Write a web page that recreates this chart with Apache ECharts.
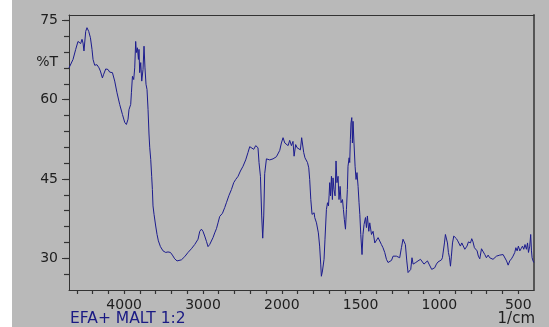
<!DOCTYPE html>
<html>
<head>
<meta charset="utf-8">
<script src="https://cdn.jsdelivr.net/npm/echarts@6/dist/echarts.min.js"></script>
<style>
  html, body { margin: 0; padding: 0; background: #ffffff; }
  #chart { position: absolute; left: 12px; top: 0; width: 537px; height: 327px; background: #b9b9b9; }
</style>
</head>
<body>
<div id="chart"></div>
<script>
// FTIR spectrum: wavenumber (1/cm) and transmittance (%T)
const wavenumbers = [
  4700,4691,4649,4615,4586,4564,4552,4535,4522,4510,
  4488,4472,4450,4428,4408,4395,4374,4345,4319,4302,
  4276,4260,4234,4205,4184,4149,4120,4091,4057,4022,
  3993,3972,3951,3939,3917,3908,3895,3879,3866,3854,
  3845,3832,3819,3812,3803,3790,3777,3761,3748,3736,
  3723,3710,3697,3685,3676,3663,3651,3642,3634,3621,
  3600,3583,3566,3540,3507,3473,3444,3413,3388,3359,
  3329,3304,3274,3232,3190,3147,3105,3083,3063,3041,
  3020,3000,2978,2956,2936,2915,2894,2873,2851,2829,
  2809,2788,2753,2724,2703,2670,2639,2610,2585,2555,
  2525,2492,2458,2429,2407,2385,2356,2331,2302,2289,
  2271,2255,2242,2229,2217,2195,2175,2153,2111,2068,
  2048,2026,2005,1992,1981,1971,1960,1950,1939,1929,
  1922,1912,1903,1891,1882,1874,1865,1861,1853,1844,
  1837,1829,1823,1816,1808,1802,1795,1791,1780,1774,
  1768,1760,1753,1749,1742,1738,1732,1726,1717,1710,
  1704,1700,1696,1691,1685,1679,1675,1669,1662,1656,
  1650,1643,1637,1630,1624,1615,1609,1603,1596,1590,
  1584,1580,1573,1569,1565,1561,1556,1552,1548,1542,
  1535,1529,1523,1516,1510,1505,1499,1491,1485,1478,
  1469,1463,1457,1448,1442,1431,1421,1410,1400,1389,
  1379,1368,1358,1347,1336,1326,1315,1304,1294,1283,
  1273,1263,1252,1241,1231,1224,1216,1207,1199,1188,
  1182,1174,1167,1157,1150,1136,1120,1108,1098,1087,
  1076,1066,1057,1049,1040,1030,1019,1009,998,987,
  981,974,968,962,955,949,943,936,930,924,
  917,909,901,892,884,876,867,858,850,839,
  833,825,816,803,795,787,778,770,761,753,
  744,733,723,712,702,691,681,670,660,649,
  638,628,617,606,596,585,574,564,554,543,
  533,522,515,507,499,490,482,473,465,457,
  448,441,435,427,421,416,412,406,401
];

const transmittance = [
  66.0,65.7,67.6,69.5,71.0,71.1,70.6,71.4,70.7,69.2,
  72.9,73.6,72.9,71.7,69.5,67.6,66.5,66.6,66.0,65.4,
  64.1,64.8,65.8,65.7,65.2,65.1,63.5,61.3,59.1,57.2,
  55.7,55.3,56.3,58.1,59.1,61.3,64.4,63.8,66.0,71.0,
  68.9,69.8,67.6,69.5,65.1,67.0,63.5,65.7,70.1,66.0,
  62.9,61.9,58.1,53.5,51.0,48.7,45.5,43.0,39.9,38.3,
  36.1,34.5,33.3,32.2,31.4,31.1,31.2,31.1,30.6,29.9,
  29.5,29.2,29.7,30.3,31.1,31.8,32.6,32.4,33.6,35.1,
  35.5,35.1,34.2,33.2,32.2,32.6,32.8,33.9,34.8,35.6,
  36.7,37.9,38.5,39.6,40.5,41.9,43.0,44.3,44.9,45.5,
  46.5,47.4,48.6,50.0,51.1,51.3,50.6,51.3,50.9,48.1,
  45.5,38.0,33.8,38.0,46.0,48.8,49.1,48.6,48.8,49.2,
  49.3,50.4,51.8,52.8,51.8,52.1,51.3,52.3,51.3,52.1,
  49.3,51.5,50.9,51.2,50.5,52.8,53.0,50.0,49.0,49.3,
  48.1,47.1,44.9,41.1,38.3,38.0,38.6,37.7,36.7,37.0,
  34.8,32.3,28.9,26.6,27.6,27.3,29.8,33.6,39.2,40.5,
  39.9,41.8,44.3,41.8,45.5,41.1,45.2,43.0,41.8,48.4,
  44.3,45.5,41.1,43.6,40.5,41.1,39.2,37.3,35.5,39.2,
  43.0,47.4,49.0,48.1,52.5,55.6,56.6,51.8,55.9,51.8,
  47.4,44.9,46.2,43.6,40.5,38.3,34.5,30.7,34.5,36.4,
  37.7,35.8,38.0,35.1,36.7,34.5,35.1,32.9,33.2,33.9,
  33.6,32.6,32.0,31.1,29.8,29.2,29.2,29.6,30.4,30.2,
  30.4,30.2,30.1,32.0,33.6,33.9,32.6,29.5,27.3,27.0,
  27.9,30.1,28.9,29.2,29.2,29.5,29.8,29.9,28.9,28.7,
  29.5,28.9,28.9,27.9,27.6,28.2,28.9,29.3,29.5,29.7,
  30.1,29.8,32.9,34.5,34.8,32.9,31.1,30.1,28.5,30.4,
  32.9,34.2,34.5,33.7,33.3,33.1,32.3,32.9,32.6,31.7,
  31.4,32.3,33.1,32.9,33.7,33.1,32.0,32.3,31.4,30.4,
  29.9,31.8,31.7,30.7,30.1,30.6,30.1,30.4,29.8,29.9,
  30.4,30.7,30.6,30.7,30.7,30.4,29.5,28.7,29.5,29.9,
  30.4,31.1,32.0,31.4,32.3,31.4,31.8,32.3,31.7,32.6,
  31.7,32.9,31.1,32.3,34.5,31.4,30.1,29.5,29.2
];

const xTickLabels = [4000, 3000, 2000, 1500, 1000, 500];
const yTickLabels = [30, 45, 60, 75];

// Wavenumber range and %T range of the plot frame
const WN_MIN = 400, WN_MAX = 4700;
const T_MIN = 24, T_MAX = 76;

// The wavenumber scale is compressed by half above 2000 1/cm
const SCALE_BREAK = 2000;
function toAxis(w) { return w <= SCALE_BREAK ? w : SCALE_BREAK + (w - SCALE_BREAK) / 2; }
function fromAxis(t) { return t <= SCALE_BREAK ? t : SCALE_BREAK + (t - SCALE_BREAK) * 2; }

// Minor ticks: every 100 below the break, every 200 above it
const xTicks = [];
for (let w = 500; w < SCALE_BREAK; w += 100) xTicks.push(w);
for (let w = SCALE_BREAK; w <= 4600; w += 200) xTicks.push(w);

// Minor %T ticks every 3 units
const yTicks = [];
for (let v = 27; v <= 75; v += 3) yTicks.push(v);

const frameColor = '#333333';
const textColor = '#1e1e1e';
const fontFamily = 'DejaVu Sans';

const chart = echarts.init(document.getElementById('chart'), null, { renderer: 'canvas' });

chart.setOption({
  animation: false,
  backgroundColor: '#b9b9b9',
  grid: { left: 57, right: 15, top: 15, bottom: 37, show: false },
  xAxis: [
    {
      type: 'value',
      min: toAxis(WN_MIN), max: toAxis(WN_MAX),
      inverse: true,
      position: 'bottom',
      axisLine: { show: true, onZero: false, lineStyle: { color: frameColor, width: 1 } },
      axisTick: { show: true, interval: 0, customValues: xTicks.map(toAxis), length: 4, lineStyle: { color: frameColor, width: 1.2 } },
      axisLabel: {
        customValues: xTickLabels.map(toAxis),
        formatter: v => String(Math.round(fromAxis(v))),
        margin: 8, fontSize: 14, fontFamily: fontFamily, color: textColor
      },
      splitLine: { show: false }
    },
    {
      type: 'value',
      min: toAxis(WN_MIN), max: toAxis(WN_MAX),
      inverse: true,
      position: 'top',
      axisLine: { show: true, onZero: false, lineStyle: { color: frameColor, width: 1 } },
      axisTick: { show: false },
      axisLabel: { show: false },
      splitLine: { show: false }
    }
  ],
  yAxis: [
    {
      type: 'value', min: T_MIN, max: T_MAX,
      position: 'left',
      axisLine: { show: true, onZero: false, lineStyle: { color: frameColor, width: 1 } },
      axisTick: { show: true, interval: 0, customValues: yTicks, length: 5, lineStyle: { color: frameColor, width: 1.2 } },
      axisLabel: { show: false },
      splitLine: { show: false }
    },
    {
      type: 'value', min: T_MIN, max: T_MAX,
      position: 'left',
      axisLine: { show: false },
      axisTick: { show: true, customValues: yTickLabels, length: 7, lineStyle: { color: frameColor, width: 1 } },
      axisLabel: { customValues: yTickLabels, margin: 11, fontSize: 14, fontFamily: fontFamily, color: textColor },
      splitLine: { show: false }
    },
    {
      type: 'value', min: T_MIN, max: T_MAX,
      position: 'right',
      axisLine: { show: true, onZero: false, lineStyle: { color: '#555555', width: 2 } },
      axisTick: { show: false },
      axisLabel: { show: false },
      splitLine: { show: false }
    }
  ],
  graphic: [
    {
      type: 'text', x: 46, y: 62,
      style: { text: '%T', fontSize: 14, fontFamily: fontFamily, fill: textColor, align: 'right', verticalAlign: 'middle' }
    },
    {
      type: 'text', x: 58, y: 319,
      style: { text: 'EFA+ MALT 1:2', fontSize: 15.5, fontFamily: fontFamily, fill: '#1a1a84', align: 'left', verticalAlign: 'middle' }
    },
    {
      type: 'text', x: 523, y: 319,
      style: { text: '1/cm', fontSize: 15, fontFamily: fontFamily, fill: textColor, align: 'right', verticalAlign: 'middle' }
    }
  ],
  series: [
    {
      type: 'line',
      xAxisIndex: 0,
      yAxisIndex: 0,
      data: wavenumbers.map((w, i) => [toAxis(w), transmittance[i]]),
      showSymbol: false,
      silent: true,
      lineStyle: { color: '#1c1c8e', width: 1 }
    }
  ]
});
</script>
</body>
</html>
